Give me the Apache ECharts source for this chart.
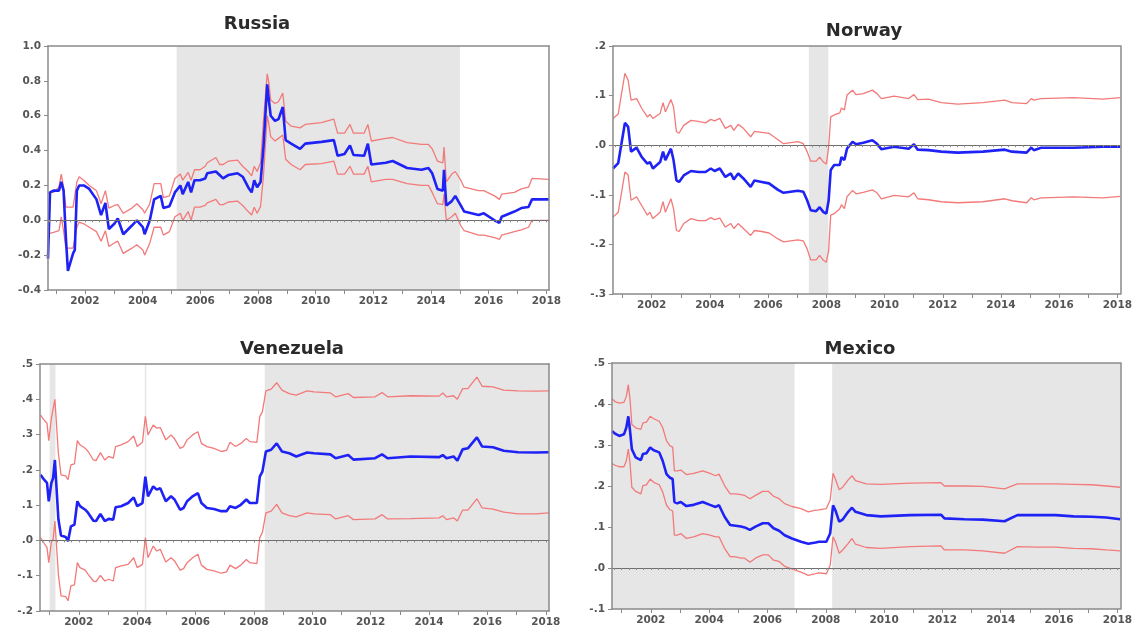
<!DOCTYPE html>
<html><head><meta charset="utf-8">
<script src="https://cdn.jsdelivr.net/npm/echarts@6/dist/echarts.min.js"></script>
<style>html,body{margin:0;padding:0;background:#fff}#c{width:1135px;height:634px}</style>
</head><body><div id="c"></div>
<script>
// ---------- DATA ----------
const yearLabels = [2002,2004,2006,2008,2010,2012,2014,2016,2018];

const ruX = [2000.72,2000.79,2000.91,2001.10,2001.18,2001.26,2001.34,2001.41,2001.59,2001.65,
2001.72,2001.80,2001.96,2002.15,2002.40,2002.56,2002.71,2002.83,2003.02,2003.14,
2003.33,2003.63,2003.80,2004.01,2004.07,2004.25,2004.40,2004.63,2004.72,2004.93,
2005.12,2005.31,2005.39,2005.58,2005.68,2005.80,2005.99,2006.17,2006.24,2006.54,
2006.67,2006.79,2006.98,2007.29,2007.47,2007.66,2007.78,2007.87,2007.97,2008.09,
2008.19,2008.32,2008.37,2008.44,2008.59,2008.71,2008.86,2008.96,2009.15,2009.46,
2009.64,2010.20,2010.63,2010.76,2011.00,2011.19,2011.31,2011.68,2011.81,2011.93,
2012.43,2012.67,2013.17,2013.67,2013.91,2014.04,2014.22,2014.41,2014.45,2014.53,
2014.72,2014.84,2015.03,2015.15,2015.65,2015.83,2016.20,2016.37,2016.45,2016.89,
2017.13,2017.38,2017.50,2018.09];
const ruMid = [-0.22,0.16,0.17,0.17,0.22,0.17,-0.1,-0.29,-0.19,-0.17,
0.17,0.2,0.2,0.18,0.12,0.03,0.1,-0.05,-0.02,0.01,
-0.08,-0.03,0.0,-0.04,-0.08,0.0,0.12,0.14,0.07,0.08,
0.16,0.2,0.15,0.22,0.16,0.23,0.23,0.24,0.27,0.28,
0.26,0.24,0.26,0.27,0.25,0.19,0.16,0.23,0.19,0.22,
0.42,0.78,0.70,0.60,0.57,0.58,0.65,0.46,0.44,0.41,
0.44,0.45,0.46,0.37,0.38,0.43,0.375,0.37,0.44,0.32,
0.33,0.34,0.3,0.29,0.3,0.27,0.18,0.17,0.29,0.085,
0.11,0.14,0.085,0.05,0.03,0.04,0.0,-0.015,0.02,0.05,
0.07,0.076,0.12,0.12];
const ruUp = [0.155,0.16,0.16,0.19,0.265,0.19,0.075,0.075,0.075,0.075,
0.22,0.25,0.23,0.2,0.17,0.095,0.17,0.07,0.085,0.09,
0.04,0.07,0.095,0.06,0.04,0.095,0.21,0.21,0.13,0.14,
0.24,0.265,0.23,0.275,0.23,0.29,0.29,0.31,0.33,0.36,
0.32,0.32,0.34,0.345,0.31,0.28,0.255,0.31,0.28,0.33,
0.57,0.84,0.8,0.69,0.67,0.68,0.73,0.57,0.54,0.53,
0.55,0.56,0.58,0.5,0.5,0.55,0.5,0.5,0.55,0.455,
0.47,0.475,0.445,0.435,0.435,0.41,0.34,0.33,0.42,0.22,
0.265,0.28,0.23,0.19,0.17,0.17,0.14,0.12,0.15,0.16,
0.18,0.19,0.24,0.235];
const ruLo = [-0.075,-0.075,-0.07,-0.06,0.02,-0.06,-0.16,-0.16,-0.16,-0.16,
-0.04,-0.01,-0.02,-0.04,-0.065,-0.12,-0.06,-0.15,-0.13,-0.12,
-0.19,-0.16,-0.14,-0.17,-0.2,-0.13,-0.04,-0.04,-0.085,-0.065,
0.02,0.04,0.0,0.05,0.0,0.075,0.075,0.085,0.1,0.12,
0.09,0.09,0.105,0.11,0.085,0.05,0.03,0.075,0.04,0.08,
0.255,0.6,0.56,0.48,0.455,0.47,0.49,0.35,0.32,0.29,
0.32,0.325,0.34,0.265,0.265,0.31,0.265,0.265,0.31,0.22,
0.235,0.235,0.21,0.2,0.2,0.16,0.095,0.09,0.15,0.0,
0.02,0.04,-0.03,-0.06,-0.085,-0.085,-0.1,-0.11,-0.085,-0.065,
-0.055,-0.04,0.0,0.0];
const ruShade = [[2005.18, 2015.0]];

const noX = [2000.67,2000.85,2000.98,2001.08,2001.19,2001.29,2001.48,2001.66,2001.85,2001.94,
2002.04,2002.29,2002.39,2002.47,2002.66,2002.75,2002.85,2002.94,2003.10,2003.35,
2003.60,2003.85,2004.03,2004.16,2004.34,2004.53,2004.72,2004.82,2004.97,2005.15,
2005.40,2005.53,2005.78,2006.03,2006.34,2006.53,2007.02,2007.21,2007.34,2007.46,
2007.65,2007.77,2007.90,2008.00,2008.08,2008.15,2008.27,2008.46,2008.52,2008.62,
2008.71,2008.90,2009.02,2009.27,2009.58,2009.74,2009.89,2010.33,2010.83,2011.01,
2011.14,2011.51,2011.95,2012.51,2013.38,2014.13,2014.38,2014.88,2015.04,2015.13,
2015.38,2016.50,2017.50,2018.10];
const noMid = [-0.047,-0.036,0.01,0.045,0.037,-0.013,-0.005,-0.024,-0.037,-0.034,
-0.047,-0.034,-0.013,-0.03,-0.007,-0.03,-0.071,-0.074,-0.061,-0.052,
-0.054,-0.054,-0.047,-0.052,-0.047,-0.064,-0.057,-0.069,-0.057,-0.067,
-0.084,-0.071,-0.074,-0.077,-0.09,-0.096,-0.092,-0.094,-0.111,-0.131,
-0.133,-0.125,-0.135,-0.138,-0.111,-0.05,-0.04,-0.04,-0.024,-0.03,
-0.007,0.007,0.002,0.005,0.01,0.003,-0.008,-0.003,-0.007,0.002,
-0.009,-0.01,-0.013,-0.015,-0.013,-0.009,-0.013,-0.015,-0.005,-0.01,
-0.005,-0.005,-0.003,-0.003];
const noUp = [0.054,0.063,0.11,0.145,0.131,0.091,0.094,0.074,0.057,0.062,
0.054,0.064,0.086,0.067,0.092,0.077,0.027,0.024,0.04,0.05,
0.048,0.045,0.052,0.049,0.054,0.034,0.04,0.03,0.042,0.034,
0.017,0.028,0.026,0.024,0.011,0.003,0.007,0.003,-0.013,-0.032,
-0.032,-0.024,-0.034,-0.038,-0.003,0.057,0.061,0.065,0.075,0.071,
0.101,0.111,0.102,0.104,0.111,0.104,0.094,0.099,0.094,0.102,
0.092,0.093,0.086,0.083,0.086,0.091,0.086,0.084,0.094,0.091,
0.094,0.096,0.093,0.096];
const noLo = [-0.145,-0.135,-0.09,-0.054,-0.06,-0.111,-0.104,-0.122,-0.141,-0.135,
-0.148,-0.135,-0.114,-0.135,-0.108,-0.128,-0.172,-0.174,-0.158,-0.148,
-0.152,-0.152,-0.146,-0.15,-0.147,-0.165,-0.158,-0.168,-0.158,-0.168,
-0.182,-0.172,-0.174,-0.177,-0.189,-0.195,-0.191,-0.193,-0.209,-0.231,
-0.231,-0.222,-0.232,-0.236,-0.212,-0.141,-0.138,-0.128,-0.12,-0.128,
-0.104,-0.091,-0.098,-0.095,-0.09,-0.096,-0.108,-0.101,-0.104,-0.096,
-0.108,-0.11,-0.114,-0.116,-0.114,-0.108,-0.112,-0.116,-0.106,-0.11,
-0.106,-0.104,-0.106,-0.103];
const noShade = [[2007.40, 2008.07]];

const veX = [2000.69,2000.81,2000.91,2000.97,2001.06,2001.12,2001.18,2001.30,2001.39,2001.55,
2001.63,2001.73,2001.85,2001.95,2002.04,2002.22,2002.32,2002.50,2002.59,2002.74,
2002.89,2003.02,2003.18,2003.26,2003.45,2003.69,2003.88,2004.00,2004.18,2004.28,
2004.37,2004.55,2004.67,2004.79,2004.98,2005.16,2005.28,2005.47,2005.59,2005.71,
2005.90,2006.08,2006.20,2006.39,2006.63,2006.88,2007.06,2007.18,2007.37,2007.55,
2007.74,2007.86,2008.10,2008.20,2008.29,2008.41,2008.59,2008.78,2008.96,2009.21,
2009.45,2009.82,2010.06,2010.62,2010.80,2011.23,2011.41,2012.15,2012.39,2012.58,
2013.37,2014.35,2014.47,2014.60,2014.84,2014.97,2015.15,2015.33,2015.64,2015.82,
2016.19,2016.56,2017.05,2017.66,2018.11];
const veMid = [0.186,0.172,0.163,0.111,0.163,0.177,0.228,0.06,0.014,0.01,
-0.002,0.04,0.045,0.111,0.097,0.087,0.078,0.056,0.055,0.075,
0.055,0.061,0.059,0.094,0.097,0.106,0.122,0.097,0.106,0.181,
0.125,0.153,0.144,0.148,0.111,0.125,0.116,0.087,0.092,0.111,
0.125,0.134,0.106,0.092,0.089,0.083,0.083,0.097,0.092,0.101,
0.116,0.106,0.106,0.181,0.195,0.252,0.257,0.275,0.252,0.247,
0.238,0.249,0.247,0.244,0.233,0.242,0.229,0.233,0.244,0.233,
0.238,0.236,0.242,0.233,0.238,0.226,0.258,0.261,0.292,0.266,
0.264,0.254,0.25,0.249,0.25];
const veUp = [0.355,0.341,0.332,0.283,0.346,0.351,0.40,0.247,0.186,0.183,
0.172,0.214,0.217,0.283,0.271,0.261,0.252,0.228,0.226,0.249,
0.228,0.238,0.233,0.266,0.271,0.28,0.296,0.266,0.278,0.352,
0.299,0.327,0.318,0.32,0.285,0.299,0.288,0.261,0.266,0.285,
0.299,0.308,0.275,0.266,0.261,0.252,0.255,0.278,0.266,0.275,
0.289,0.28,0.278,0.351,0.365,0.424,0.429,0.447,0.426,0.416,
0.412,0.424,0.421,0.418,0.407,0.416,0.405,0.407,0.419,0.407,
0.41,0.409,0.418,0.407,0.41,0.40,0.43,0.43,0.463,0.437,
0.435,0.426,0.424,0.423,0.424];
const veLo = [0.008,-0.008,-0.02,-0.063,-0.005,0.003,0.055,-0.096,-0.157,-0.159,
-0.171,-0.129,-0.126,-0.063,-0.077,-0.084,-0.096,-0.115,-0.117,-0.099,
-0.115,-0.11,-0.115,-0.077,-0.072,-0.068,-0.049,-0.077,-0.068,0.008,
-0.049,-0.016,-0.03,-0.025,-0.061,-0.049,-0.058,-0.084,-0.08,-0.063,
-0.049,-0.039,-0.07,-0.082,-0.086,-0.093,-0.089,-0.07,-0.08,-0.07,
-0.054,-0.063,-0.066,0.008,0.022,0.078,0.083,0.102,0.078,0.07,
0.067,0.078,0.075,0.073,0.061,0.07,0.059,0.061,0.073,0.061,
0.062,0.064,0.07,0.059,0.064,0.055,0.086,0.086,0.118,0.092,
0.089,0.08,0.075,0.075,0.078];
const veShade = [[2001.0, 2001.2],[2004.26, 2004.31],[2008.37, 2018.11]];

const meX = [2000.67,2000.79,2000.92,2001.08,2001.16,2001.23,2001.29,2001.35,2001.48,2001.66,
2001.73,2001.85,2001.98,2002.10,2002.29,2002.41,2002.54,2002.66,2002.75,2002.81,
2002.91,2003.03,2003.22,2003.47,2003.78,2004.03,2004.22,2004.34,2004.53,2004.72,
2004.91,2005.09,2005.22,2005.40,2005.59,2005.84,2006.03,2006.21,2006.40,2006.59,
2006.84,2007.15,2007.40,2007.65,2007.77,2008.02,2008.15,2008.25,2008.33,2008.46,
2008.58,2008.77,2008.90,2009.02,2009.39,2009.89,2010.89,2011.95,2012.07,2012.76,
2013.38,2014.13,2014.57,2015.25,2015.88,2016.50,2017.12,2017.62,2018.10];
const meMid = [0.334,0.327,0.322,0.326,0.342,0.37,0.334,0.29,0.27,0.263,
0.278,0.28,0.294,0.287,0.282,0.261,0.229,0.22,0.217,0.161,
0.158,0.161,0.151,0.154,0.161,0.154,0.149,0.153,0.125,0.105,
0.103,0.101,0.099,0.093,0.101,0.109,0.109,0.097,0.091,0.08,
0.072,0.064,0.059,0.062,0.064,0.064,0.084,0.153,0.141,0.113,
0.118,0.137,0.147,0.137,0.129,0.126,0.129,0.13,0.121,0.119,
0.118,0.114,0.129,0.129,0.129,0.126,0.125,0.123,0.119];
const meUp = [0.413,0.405,0.402,0.404,0.418,0.447,0.41,0.35,0.342,0.338,
0.354,0.356,0.37,0.364,0.358,0.342,0.31,0.298,0.295,0.237,
0.237,0.239,0.228,0.231,0.237,0.231,0.225,0.229,0.201,0.181,
0.181,0.179,0.177,0.169,0.177,0.187,0.187,0.175,0.169,0.157,
0.15,0.145,0.137,0.141,0.142,0.145,0.165,0.231,0.217,0.191,
0.197,0.215,0.225,0.213,0.205,0.204,0.207,0.208,0.2,0.2,
0.199,0.193,0.205,0.205,0.205,0.204,0.203,0.2,0.197];
const meLo = [0.255,0.25,0.247,0.247,0.261,0.29,0.255,0.197,0.187,0.181,
0.201,0.203,0.217,0.209,0.203,0.185,0.153,0.142,0.139,0.08,
0.08,0.084,0.072,0.076,0.084,0.08,0.076,0.076,0.048,0.028,
0.027,0.024,0.024,0.014,0.024,0.032,0.032,0.019,0.016,0.004,
-0.002,-0.01,-0.018,-0.014,-0.012,-0.014,0.006,0.076,0.064,0.036,
0.044,0.06,0.072,0.058,0.05,0.048,0.052,0.054,0.044,0.044,
0.042,0.036,0.052,0.051,0.051,0.048,0.047,0.044,0.042];
const meShade = [[2000.6, 2006.93],[2008.22, 2018.2]];

// ---------- LAYOUT / STYLE ----------
const panels = [
  {name:'Russia', x:ruX, mid:ruMid, up:ruUp, lo:ruLo, shade:ruShade, ymin:-0.4, ymax:1.0, step:0.2, lead:true,
   grid:{left:48, top:46, width:501, height:244}, xmin:2000.72, xmax:2018.09, tx:252, ty:10},
  {name:'Norway', x:noX, mid:noMid, up:noUp, lo:noLo, shade:noShade, ymin:-0.3, ymax:0.2, step:0.1, lead:false,
   grid:{left:613, top:46, width:508, height:248}, xmin:2000.67, xmax:2018.1, tx:859, ty:17},
  {name:'Venezuela', x:veX, mid:veMid, up:veUp, lo:veLo, shade:veShade, ymin:-0.2, ymax:0.5, step:0.1, lead:false,
   grid:{left:40, top:364, width:509, height:247}, xmin:2000.67, xmax:2018.11, tx:287, ty:335},
  {name:'Mexico', x:meX, mid:meMid, up:meUp, lo:meLo, shade:meShade, ymin:-0.1, ymax:0.5, step:0.1, lead:false,
   grid:{left:612, top:363, width:509, height:246}, xmin:2000.67, xmax:2018.1, tx:855, ty:335}
];

const yearTicks = []; for (let y=2001;y<=2018;y++) yearTicks.push(y);
const quarterTicks = []; for (let y=2000;y<=2018;y++) for (let q=0;q<4;q++) quarterTicks.push(y+q*0.25);

const FONT = 'DejaVu Sans';
const BORDER = '#8a8a8a';
const option = {backgroundColor:'#fff', animation:false, title:[], grid:[], xAxis:[], yAxis:[], series:[]};

panels.forEach((p, i) => {
  const q = quarterTicks.filter(v => v >= p.xmin && v <= p.xmax);
  option.title.push({text:p.name, left:p.tx, top:p.ty, textAlign:'center',
    textStyle:{fontFamily:FONT, fontSize:18, fontWeight:'bold', color:'#2a2a2a'}});
  option.grid.push(Object.assign({show:false}, p.grid));
  // main bottom axis (year ticks + labels)
  option.xAxis.push({type:'value', gridIndex:i, min:p.xmin, max:p.xmax, position:'bottom', z:10, splitLine:{show:false},
    axisLine:{show:true, onZero:false, lineStyle:{color:BORDER, width:1.5}},
    axisTick:{show:true, customValues:yearTicks, length:4, lineStyle:{color:BORDER}},
    axisLabel:{customValues:yearLabels, margin:6, fontFamily:FONT, fontSize:10.5, fontWeight:'bold', color:'#555',
      formatter:v => String(Math.round(v))}});
  // quarter minor ticks
  option.xAxis.push({type:'value', gridIndex:i, min:p.xmin, max:p.xmax, position:'bottom', z:10, splitLine:{show:false},
    axisLine:{show:false}, axisLabel:{show:false},
    axisTick:{show:true, customValues:q, length:2, lineStyle:{color:BORDER}}});
  // top frame
  option.xAxis.push({type:'value', gridIndex:i, min:p.xmin, max:p.xmax, position:'top', z:10, splitLine:{show:false},
    axisLine:{show:true, onZero:false, lineStyle:{color:BORDER, width:1.5}}, axisTick:{show:false}, axisLabel:{show:false}});
  option.yAxis.push({type:'value', gridIndex:i, min:p.ymin, max:p.ymax, interval:p.step, position:'left', z:10, splitLine:{show:false},
    axisLine:{show:true, onZero:false, lineStyle:{color:BORDER, width:1.5}},
    axisTick:{show:true, length:4, lineStyle:{color:BORDER}},
    axisLabel:{margin:7, fontFamily:FONT, fontSize:10.5, fontWeight:'bold', color:'#555',
      formatter:v => { const s = (Math.round(v*10)/10).toFixed(1); return p.lead ? s : s.replace('0.', '.'); }}});
  // right frame
  option.yAxis.push({type:'value', gridIndex:i, min:p.ymin, max:p.ymax, position:'right', z:10, splitLine:{show:false},
    axisLine:{show:true, onZero:false, lineStyle:{color:BORDER, width:1.5}}, axisTick:{show:false}, axisLabel:{show:false}});
  const xi = i*3, yi = i*2;
  const zip = arr => p.x.map((xv, k) => [xv, arr[k]]);
  option.series.push({type:'line', xAxisIndex:xi, yAxisIndex:yi, data:zip(p.lo), showSymbol:false, silent:true,
    lineStyle:{color:'#f27a7a', width:1.3}, z:3,
    markArea:{silent:true, itemStyle:{color:'#e6e6e6'}, data:p.shade.map(s => [{xAxis:Math.max(s[0],p.xmin)},{xAxis:Math.min(s[1],p.xmax)}])},
    markLine:{silent:true, symbol:'none', label:{show:false}, lineStyle:{color:'#6e6e6e', width:1.2, type:'solid'},
      data:[{yAxis:0}]}});
  option.series.push({type:'line', xAxisIndex:xi, yAxisIndex:yi, data:zip(p.up), showSymbol:false, silent:true,
    lineStyle:{color:'#f27a7a', width:1.3}, z:3});
  option.series.push({type:'line', xAxisIndex:xi, yAxisIndex:yi, data:zip(p.mid), showSymbol:false, silent:true,
    lineStyle:{color:'#1f22f5', width:2.6}, z:4});
});

const chart = echarts.init(document.getElementById('c'), null, {renderer:'canvas'});
chart.setOption(option);
</script></body></html>
